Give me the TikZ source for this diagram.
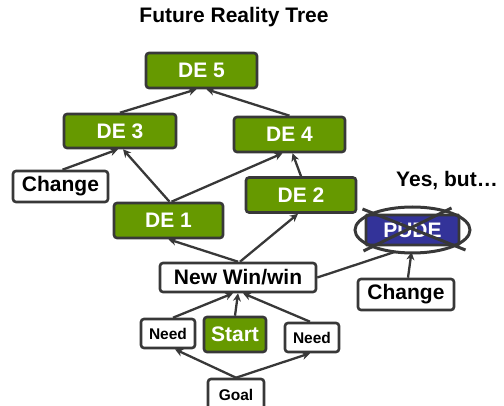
\documentclass[tikz,border=0pt]{standalone}
\usepackage{fontspec}
\setmainfont{Liberation Sans}
\usetikzlibrary{arrows.meta,shapes.geometric,calc}
\definecolor{degreen}{HTML}{669900}
\definecolor{udeblue}{HTML}{333399}
\definecolor{edgegray}{HTML}{383838}
\begin{document}
\begin{tikzpicture}[x=1pt,y=-1pt,
    box/.style={draw=edgegray, line width=2.6pt, rounded corners=3pt, inner sep=0pt, font=\bfseries\fontsize{21}{21}\selectfont},
    effect/.style={box, fill=degreen, text=white},
    plain/.style={box, fill=white, text=black},
    small/.style={plain, font=\bfseries\fontsize{15.5}{15.5}\selectfont},
    link/.style={draw=edgegray, line width=2.3pt, -{Stealth[length=8pt,width=8pt]}}]
    \clip (0,0) rectangle (504,406);
    \node [font=\bfseries\fontsize{21}{21}\selectfont] (title) at (234,17) {Future Reality Tree};
    % effects
    \node [effect, minimum width=111, minimum height=35] (de5) at (201.5,70.5) {DE 5};
    \node [effect, minimum width=112, minimum height=34] (de3) at (120,131) {DE 3};
    \node [effect, minimum width=111, minimum height=35] (de4) at (289.5,134.5) {DE 4};
    \node [effect, minimum width=109, minimum height=35] (de1) at (168.5,220.5) {DE 1};
    \node [effect, minimum width=110, minimum height=35] (de2) at (301,195) {DE 2};
    \node [effect, minimum width=62, minimum height=35] (start) at (235,334.5) {Start};
    % white boxes
    \node [plain, minimum width=95, minimum height=31] (changeL) at (60.5,186.5) {Change};
    \node [plain, minimum width=96, minimum height=31] (changeR) at (406,294.5) {Change};
    \node [plain, minimum width=156, minimum height=29] (winwin) at (238,277.5) {New Win/win};
    \node [small, minimum width=54, minimum height=29] (needL) at (168,333.5) {Need};
    \node [small, minimum width=54, minimum height=29] (needR) at (312,337.5) {Need};
    \node [small, minimum width=56, minimum height=32] (goal) at (236,395) {Goal};
    % negative branch
    \node [font=\bfseries\fontsize{21}{21}\selectfont] (yesbut) at (447,181) {Yes, but\dots};
    \node [box, fill=udeblue, text=white, rounded corners=1pt, minimum width=93, minimum height=30] (pude) at (412.5,230) {PUDE};
    \node [draw=edgegray, line width=3pt, ellipse, minimum width=115, minimum height=46] (oval) at (412.5,230) {};
    \draw [edgegray, line width=3pt] ($(oval)+(-50,-21)$) -- ($(oval)+(53,20)$);
    \draw [edgegray, line width=3pt] ($(oval)+(39,-22)$) -- ($(oval)+(-49,21)$);
    % connectors
    \draw [link] (de3.north) -- ([xshift=-5]de5.south);
    \draw [link] (de4.north) -- ([xshift=5]de5.south);
    \draw [link] ([xshift=2]changeL.north) -- ([xshift=-2]de3.south);
    \draw [link] ([xshift=1]de1.north) -- ([xshift=3]de3.south);
    \draw [link] ([xshift=3]de1.north) -- ([xshift=-7]de4.south);
    \draw [link] (de2.north) -- ([xshift=3]de4.south);
    \draw [link] (winwin.north) -- (de1.south);
    \draw [link] ([xshift=2]winwin.north) -- ([xshift=-3]de2.south);
    \draw [edgegray, line width=2.3pt] (winwin.east) -- ($(oval)+(-18,22)$);
    \draw [link] ([xshift=2]changeR.north) -- ($(oval)+(-1,22)$);
    \draw [link] ([xshift=5]needL.north) -- ([xshift=-5]winwin.south);
    \draw [link] (start.north) -- (winwin.south);
    \draw [link] ([xshift=-2]needR.north) -- ([xshift=5]winwin.south);
    \draw [link] (goal.north) -- ([xshift=7]needL.south);
    \draw [link] (goal.north) -- ([xshift=-2]needR.south);
\end{tikzpicture}
\end{document}
